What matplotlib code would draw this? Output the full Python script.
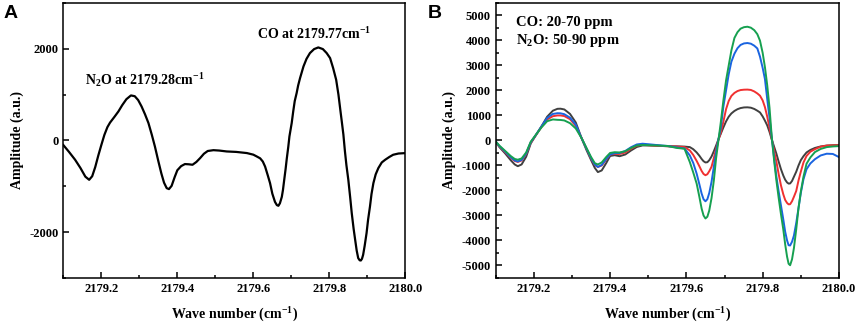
import matplotlib
matplotlib.use("Agg")
import matplotlib.pyplot as plt
from matplotlib.ticker import MultipleLocator

# ---------------------------------------------------------------------------
# Panel A: single spectrum
# ---------------------------------------------------------------------------
wave_a = [2179.100, 2179.115, 2179.131, 2179.145, 2179.158, 2179.168, 2179.176,
          2179.184, 2179.192, 2179.200, 2179.208, 2179.216, 2179.223, 2179.235,
          2179.245, 2179.255, 2179.266, 2179.278, 2179.288, 2179.297, 2179.306,
          2179.315, 2179.324, 2179.333, 2179.341, 2179.350, 2179.358, 2179.365,
          2179.372, 2179.378, 2179.385, 2179.393, 2179.400, 2179.410, 2179.420,
          2179.430, 2179.440, 2179.450, 2179.460, 2179.470, 2179.480, 2179.495,
          2179.510, 2179.530, 2179.555, 2179.583, 2179.600, 2179.609, 2179.618,
          2179.625, 2179.631, 2179.638, 2179.644, 2179.650, 2179.657, 2179.662,
          2179.666, 2179.670, 2179.675, 2179.678, 2179.681, 2179.685, 2179.688,
          2179.692, 2179.695, 2179.701, 2179.705, 2179.709, 2179.714, 2179.718,
          2179.723, 2179.732, 2179.740, 2179.749, 2179.760, 2179.771, 2179.783,
          2179.793, 2179.802, 2179.810, 2179.818, 2179.824, 2179.830, 2179.833,
          2179.837, 2179.841, 2179.845, 2179.850, 2179.855, 2179.859, 2179.864,
          2179.868, 2179.872, 2179.876, 2179.880, 2179.883, 2179.886, 2179.889,
          2179.893, 2179.898, 2179.902, 2179.907, 2179.911, 2179.916, 2179.922,
          2179.929, 2179.938, 2179.947, 2179.958, 2179.968, 2179.982, 2180.000]
amp_a = [-100, -250, -421, -600, -790, -858, -780,
         -580, -330, -100, 120, 290, 390, 520,
         633, 770, 900, 982, 965, 880, 740,
         570, 380, 120, -131, -450, -720, -920,
         -1040, -1061, -990, -800, -650, -560, -515,
         -520, -530, -470, -385, -290, -230, -212,
         -220, -240, -250, -275, -310, -349, -390,
         -460, -570, -760, -930, -1160, -1340, -1410,
         -1425, -1370, -1230, -1080, -880, -620, -400,
         -140, 87, 380, 633, 860, 1034, 1200,
         1361, 1615, 1780, 1906, 1993, 2029, 1993,
         1906, 1797, 1580, 1324, 1000, 597, 400,
         130, -230, -540, -858, -1250, -1584, -1930,
         -2167, -2400, -2566, -2615, -2618, -2580, -2494,
         -2300, -2021, -1730, -1440, -1170, -930, -740,
         -603, -480, -421, -360, -312, -285, -276]

# ---------------------------------------------------------------------------
# Panel B: four CO / N2O concentration mixtures
# ---------------------------------------------------------------------------
wave_b = [2179.100, 2179.110, 2179.125, 2179.140, 2179.150, 2179.158, 2179.168,
          2179.180, 2179.192, 2179.205, 2179.220, 2179.235, 2179.250, 2179.262,
          2179.270, 2179.280, 2179.295, 2179.310, 2179.325, 2179.338, 2179.350,
          2179.360, 2179.368, 2179.378, 2179.390, 2179.400, 2179.412, 2179.425,
          2179.440, 2179.455, 2179.470, 2179.485, 2179.500, 2179.520,
          2179.550, 2179.575, 2179.595, 2179.609, 2179.618, 2179.627, 2179.634,
          2179.640, 2179.645, 2179.650, 2179.655, 2179.660, 2179.666, 2179.672,
          2179.678, 2179.684, 2179.690, 2179.697, 2179.704, 2179.711, 2179.718,
          2179.726, 2179.734, 2179.742, 2179.751, 2179.760, 2179.769, 2179.778,
          2179.786, 2179.793, 2179.800, 2179.806, 2179.812, 2179.818, 2179.824,
          2179.830, 2179.836, 2179.842, 2179.848, 2179.854, 2179.859, 2179.864,
          2179.868, 2179.872, 2179.877, 2179.882, 2179.888, 2179.894, 2179.900,
          2179.907, 2179.915, 2179.925, 2179.937, 2179.952, 2179.968, 2179.984,
          2180.000]
amp_gray = [-50, -270, -520, -800, -960, -1030, -960,
            -650, -120, 200, 560, 950, 1190, 1265,
            1270, 1240, 1060, 720, 100, -380, -780,
            -1100, -1265, -1200, -900, -620, -590, -630,
            -560, -400, -260, -200, -200, -210,
            -230, -235, -245, -266, -350, -480, -610,
            -740, -830, -880, -870, -790, -640, -430,
            -200, 40, 260, 520, 760, 950, 1080,
            1180, 1250, 1295, 1320, 1325, 1310, 1260,
            1190, 1120, 960, 790, 600, 340, 30,
            -250, -530, -850, -1150, -1400, -1570, -1680,
            -1725, -1720, -1620, -1450, -1250, -1000, -790,
            -630, -480, -380, -300, -240, -205, -190,
            -185]
amp_red = [-40, -250, -470, -700, -820, -860, -800,
           -540, -90, 200, 540, 840, 970, 1000,
           1000, 975, 850, 580, 100, -320, -720,
           -980, -1060, -1000, -760, -560, -540, -540,
           -480, -330, -210, -170, -190, -210,
           -230, -245, -265, -400, -580, -820, -1030,
           -1220, -1340, -1390, -1350, -1230, -1050, -700,
           -330, 30, 300, 750, 1250, 1580, 1780,
           1900, 1975, 2015, 2030, 2034, 2020, 1960,
           1880, 1790, 1600, 1330, 950, 500, 50,
           -420, -850, -1350, -1800, -2150, -2380, -2500,
           -2555, -2550, -2430, -2250, -2020, -1600, -1250,
           -880, -620, -450, -350, -250, -205, -195,
           -195]
amp_blue = [-40, -230, -450, -680, -800, -840, -780,
            -520, -70, 210, 560, 900, 1060, 1090,
            1085, 1050, 910, 630, 100, -320, -700,
            -970, -1060, -980, -740, -560, -510, -500,
            -420, -270, -160, -130, -150, -180,
            -220, -280, -320, -598, -900, -1330, -1750,
            -2127, -2350, -2433, -2350, -2100, -1650, -1050,
            -450, 50, 480, 1350, 2000, 2650, 3150,
            3470, 3690, 3820, 3880, 3896, 3870, 3790,
            3680, 3350, 2900, 2450, 1650, 900, 100,
            -700, -1450, -2050, -2600, -3150, -3650, -4000,
            -4190, -4200, -4050, -3800, -3300, -2700, -2100,
            -1550, -1150, -920, -750, -600, -530, -540,
            -665]
amp_green = [-40, -210, -420, -630, -740, -770, -720,
             -480, -50, 220, 520, 770, 840, 825,
             820, 800, 690, 480, 100, -300, -660,
             -910, -960, -880, -660, -500, -470, -480,
             -430, -300, -200, -180, -190, -200,
             -220, -300, -330, -864, -1280, -1729, -2250,
             -2726, -3000, -3120, -3050, -2800, -2300, -1600,
             -700, 0, 700, 1596, 2400, 3000, 3600,
             4100, 4330, 4470, 4530, 4548, 4510, 4410,
             4250, 3989, 3500, 2925, 2200, 1300, 100,
             -800, -1600, -2300, -2950, -3550, -4150, -4650,
             -4930, -4990, -4750, -4300, -3550, -2700, -2050,
             -1450, -930, -680, -465, -340, -266, -240,
             -226]

series_b = [amp_gray, amp_red, amp_blue, amp_green]
colors_b = ["#404040", "#f03030", "#1a64e0", "#16a050"]

plt.rcParams["font.family"] = ["Liberation Serif", "DejaVu Serif"]
plt.rcParams["font.weight"] = "bold"
plt.rcParams["mathtext.default"] = "regular"
plt.rcParams["axes.unicode_minus"] = False

fig = plt.figure(figsize=(8.58, 3.24), dpi=100)
ax_a = fig.add_axes([0.0738, 0.142, 0.3986, 0.849])
ax_b = fig.add_axes([0.5777, 0.142, 0.4001, 0.849])


def style_axes(ax, ymajor, yminor):
    ax.set_xlim(2179.1, 2180.0)
    ax.xaxis.set_major_locator(MultipleLocator(0.2))
    ax.xaxis.set_minor_locator(MultipleLocator(0.1))
    ax.yaxis.set_major_locator(MultipleLocator(ymajor))
    ax.yaxis.set_minor_locator(MultipleLocator(yminor))
    ax.tick_params(which="both", direction="in", top=False, right=False,
                   width=1.1, labelsize=9)
    ax.tick_params(which="major", length=4)
    ax.tick_params(which="minor", length=2.5)
    for sp in ax.spines.values():
        sp.set_linewidth(1.1)
    ax.xaxis.set_major_formatter(plt.FuncFormatter(lambda v, p: f"{v:.1f}"))
    for lab in ax.get_xticklabels() + ax.get_yticklabels():
        lab.set_fontweight("bold")
    ax.set_xlabel("Wave number (cm$^{-1}$)", fontsize=10, fontweight="bold",
                  labelpad=8)
    ax.set_ylabel("Amplitude (a.u.)", fontsize=10, fontweight="bold")


# --- Panel A ---
ax_a.plot(wave_a, amp_a, color="black", linewidth=1.6)
ax_a.set_ylim(-3000, 3000)
style_axes(ax_a, 2000, 1000)
ax_a.text(2179.61, 2330, "CO at 2179.77cm$^{-1}$", fontsize=10,
          fontweight="bold", va="center")
ax_a.text(2179.157, 1310, "N$_2$O at 2179.28cm$^{-1}$", fontsize=10,
          fontweight="bold", va="center")
fig.text(0.004, 0.985, "A", fontsize=14, fontweight="bold",
         family="Liberation Sans", va="top")

# --- Panel B ---
for amp, col in zip(series_b, colors_b):
    ax_b.plot(wave_b, amp, color=col, linewidth=1.4)
ax_b.set_ylim(-5500, 5500)
style_axes(ax_b, 1000, 500)
ax_b.text(2179.153, 4720, "CO: 20-70 ppm", fontsize=10.5, fontweight="bold",
          va="center")
ax_b.text(2179.153, 4010, "N$_2$O: 50-90 ppm", fontsize=10.5,
          fontweight="bold", va="center")
fig.text(0.499, 0.985, "B", fontsize=14, fontweight="bold",
         family="Liberation Sans", va="top")

fig.savefig("out.png", dpi=100)
plt.close(fig)
